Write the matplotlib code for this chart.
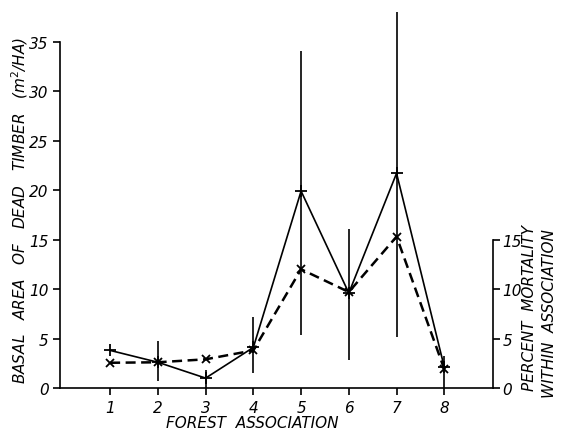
import matplotlib
matplotlib.use("Agg")
import matplotlib.pyplot as plt
import numpy as np

associations = [1, 2, 3, 4, 5, 6, 7, 8]
basal_area = [3.8, 2.6, 1.0, 4.1, 19.9, 9.6, 21.7, 2.1]
err_low = [np.nan, 0.7, 0.05, 1.5, 5.4, 2.8, 5.2, 0.0]
err_high = [np.nan, 4.8, 1.85, 7.15, 34.1, 16.1, 38.0, 3.2]
pct_mortality = [2.55, 2.6, 2.9, 3.8, 12.0, 9.7, 15.3, 1.9]

left_ticks = [0, 5, 10, 15, 20, 25, 30, 35]
right_ticks = [0, 5, 10, 15]

fs = 11
font = dict(family="DejaVu Sans", style="italic", size=fs)

fig = plt.figure(figsize=(5.64, 4.31), dpi=100)
ax = fig.add_axes([60/564, 1-389/431, (493-60)/564, (389-13)/431])
ax.set_xlim(-0.05, 9.02)
ax.set_ylim(0, 38.0)

ax.vlines(associations, err_low, err_high, color="black", lw=1.2, clip_on=False)
ax.plot(associations, basal_area, color="black", lw=1.2, marker="+", ms=9, mew=1.3, clip_on=False)
ax.plot(associations, pct_mortality, color="black", lw=1.8, ls=(0, (4, 2.2)), marker="x", ms=6, mew=1.3, clip_on=False)

for s in ["top", "right"]:
    ax.spines[s].set_visible(False)
ax.spines["left"].set_bounds(0, 35)
ax.spines["left"].set_linewidth(1.2)
ax.spines["bottom"].set_linewidth(1.2)
ax.set_yticks(left_ticks)
ax.set_yticklabels([str(t) for t in left_ticks], fontdict=font)
ax.set_xticks(associations)
ax.set_xticklabels([str(a) for a in associations], fontdict=font)
ax.tick_params(axis="both", direction="out", length=5, width=1.2, pad=3)
ax.tick_params(axis="x", pad=3.5)

ax2 = ax.twinx()
ax2.set_ylim(ax.get_ylim())
for s in ["top", "left", "bottom"]:
    ax2.spines[s].set_visible(False)
ax2.spines["right"].set_bounds(0, 15)
ax2.spines["right"].set_linewidth(1.2)
ax2.set_yticks(right_ticks)
ax2.set_yticklabels([str(t) for t in right_ticks], fontdict=font)
ax2.tick_params(axis="y", direction="out", length=5, width=1.2, pad=2)

fig.text(20/564, 1-211/431, "BASAL   AREA   OF   DEAD   TIMBER   (m$^2$/HA)", rotation=90,
         ha="center", va="center", **font)
fig.text(252/564, 1-424/431, "FOREST  ASSOCIATION", ha="center", va="center", **font)
fig.text(530/564, 1-308/431, "PERCENT  MORTALITY", rotation=90, ha="center", va="center", **font)
fig.text(550/564, 1-314/431, "WITHIN  ASSOCIATION", rotation=90, ha="center", va="center", **font)

fig.savefig("out.png", dpi=100)
